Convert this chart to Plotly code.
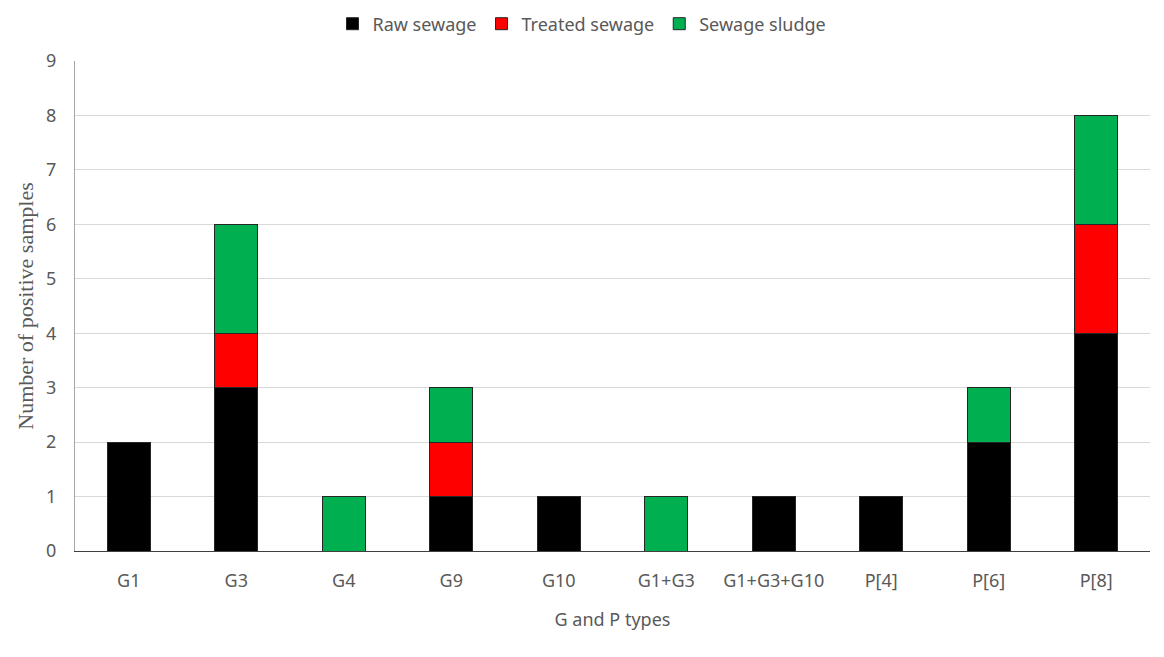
import plotly.graph_objects as go

categories = ["G1", "G3", "G4", "G9", "G10", "G1+G3", "G1+G3+G10", "P[4]", "P[6]", "P[8]"]
raw_sewage = [2, 3, 0, 1, 1, 0, 1, 1, 2, 4]
treated_sewage = [0, 1, 0, 1, 0, 0, 0, 0, 0, 2]
sewage_sludge = [0, 2, 1, 1, 0, 1, 0, 0, 1, 2]
y_ticks = [0, 1, 2, 3, 4, 5, 6, 7, 8, 9]

series = [
    ("Raw sewage", raw_sewage, "#000000"),
    ("Treated sewage", treated_sewage, "#FF0000"),
    ("Sewage sludge", sewage_sludge, "#00B050"),
]

fig = go.Figure()
for name, vals, color in series:
    fig.add_trace(go.Bar(
        name=name, x=categories, y=vals,
        marker=dict(color=color, line=dict(color="#262626", width=1)),
    ))

sans = "Noto Sans, Open Sans, sans-serif"
tick_font = dict(family=sans, size=18, color="#595959")
fig.update_layout(
    barmode="stack",
    bargap=0.6,
    width=1164, height=657,
    margin=dict(l=75, r=14, t=61, b=106, autoexpand=False),
    plot_bgcolor="white", paper_bgcolor="white",
    legend=dict(orientation="h", x=0.5, xanchor="center", xref="container",
                y=1 - 24 / 657, yanchor="middle", yref="container",
                font=dict(family=sans, size=18, color="#595959"),
                traceorder="normal", itemwidth=30),
    xaxis=dict(
        title=dict(text="G and P types", font=dict(family=sans, size=18, color="#595959"), standoff=22),
        tickfont=tick_font, showline=True, linecolor="#404040", linewidth=1,
        ticks="", showgrid=False, ticklabelstandoff=13, automargin=False,
    ),
    yaxis=dict(
        title=dict(text="Number of positive samples", font=dict(family="Liberation Serif, Times New Roman, serif", size=22, color="#595959"), standoff=6),
        range=[0, 9], tickvals=y_ticks, tickfont=tick_font,
        showgrid=True, gridcolor="#D9D9D9", gridwidth=1,
        showline=True, linecolor="#A6A6A6", linewidth=1, zeroline=False, ticks="", ticklabelstandoff=14,
        automargin=False,
    ),
)

fig.write_html("out.html")
